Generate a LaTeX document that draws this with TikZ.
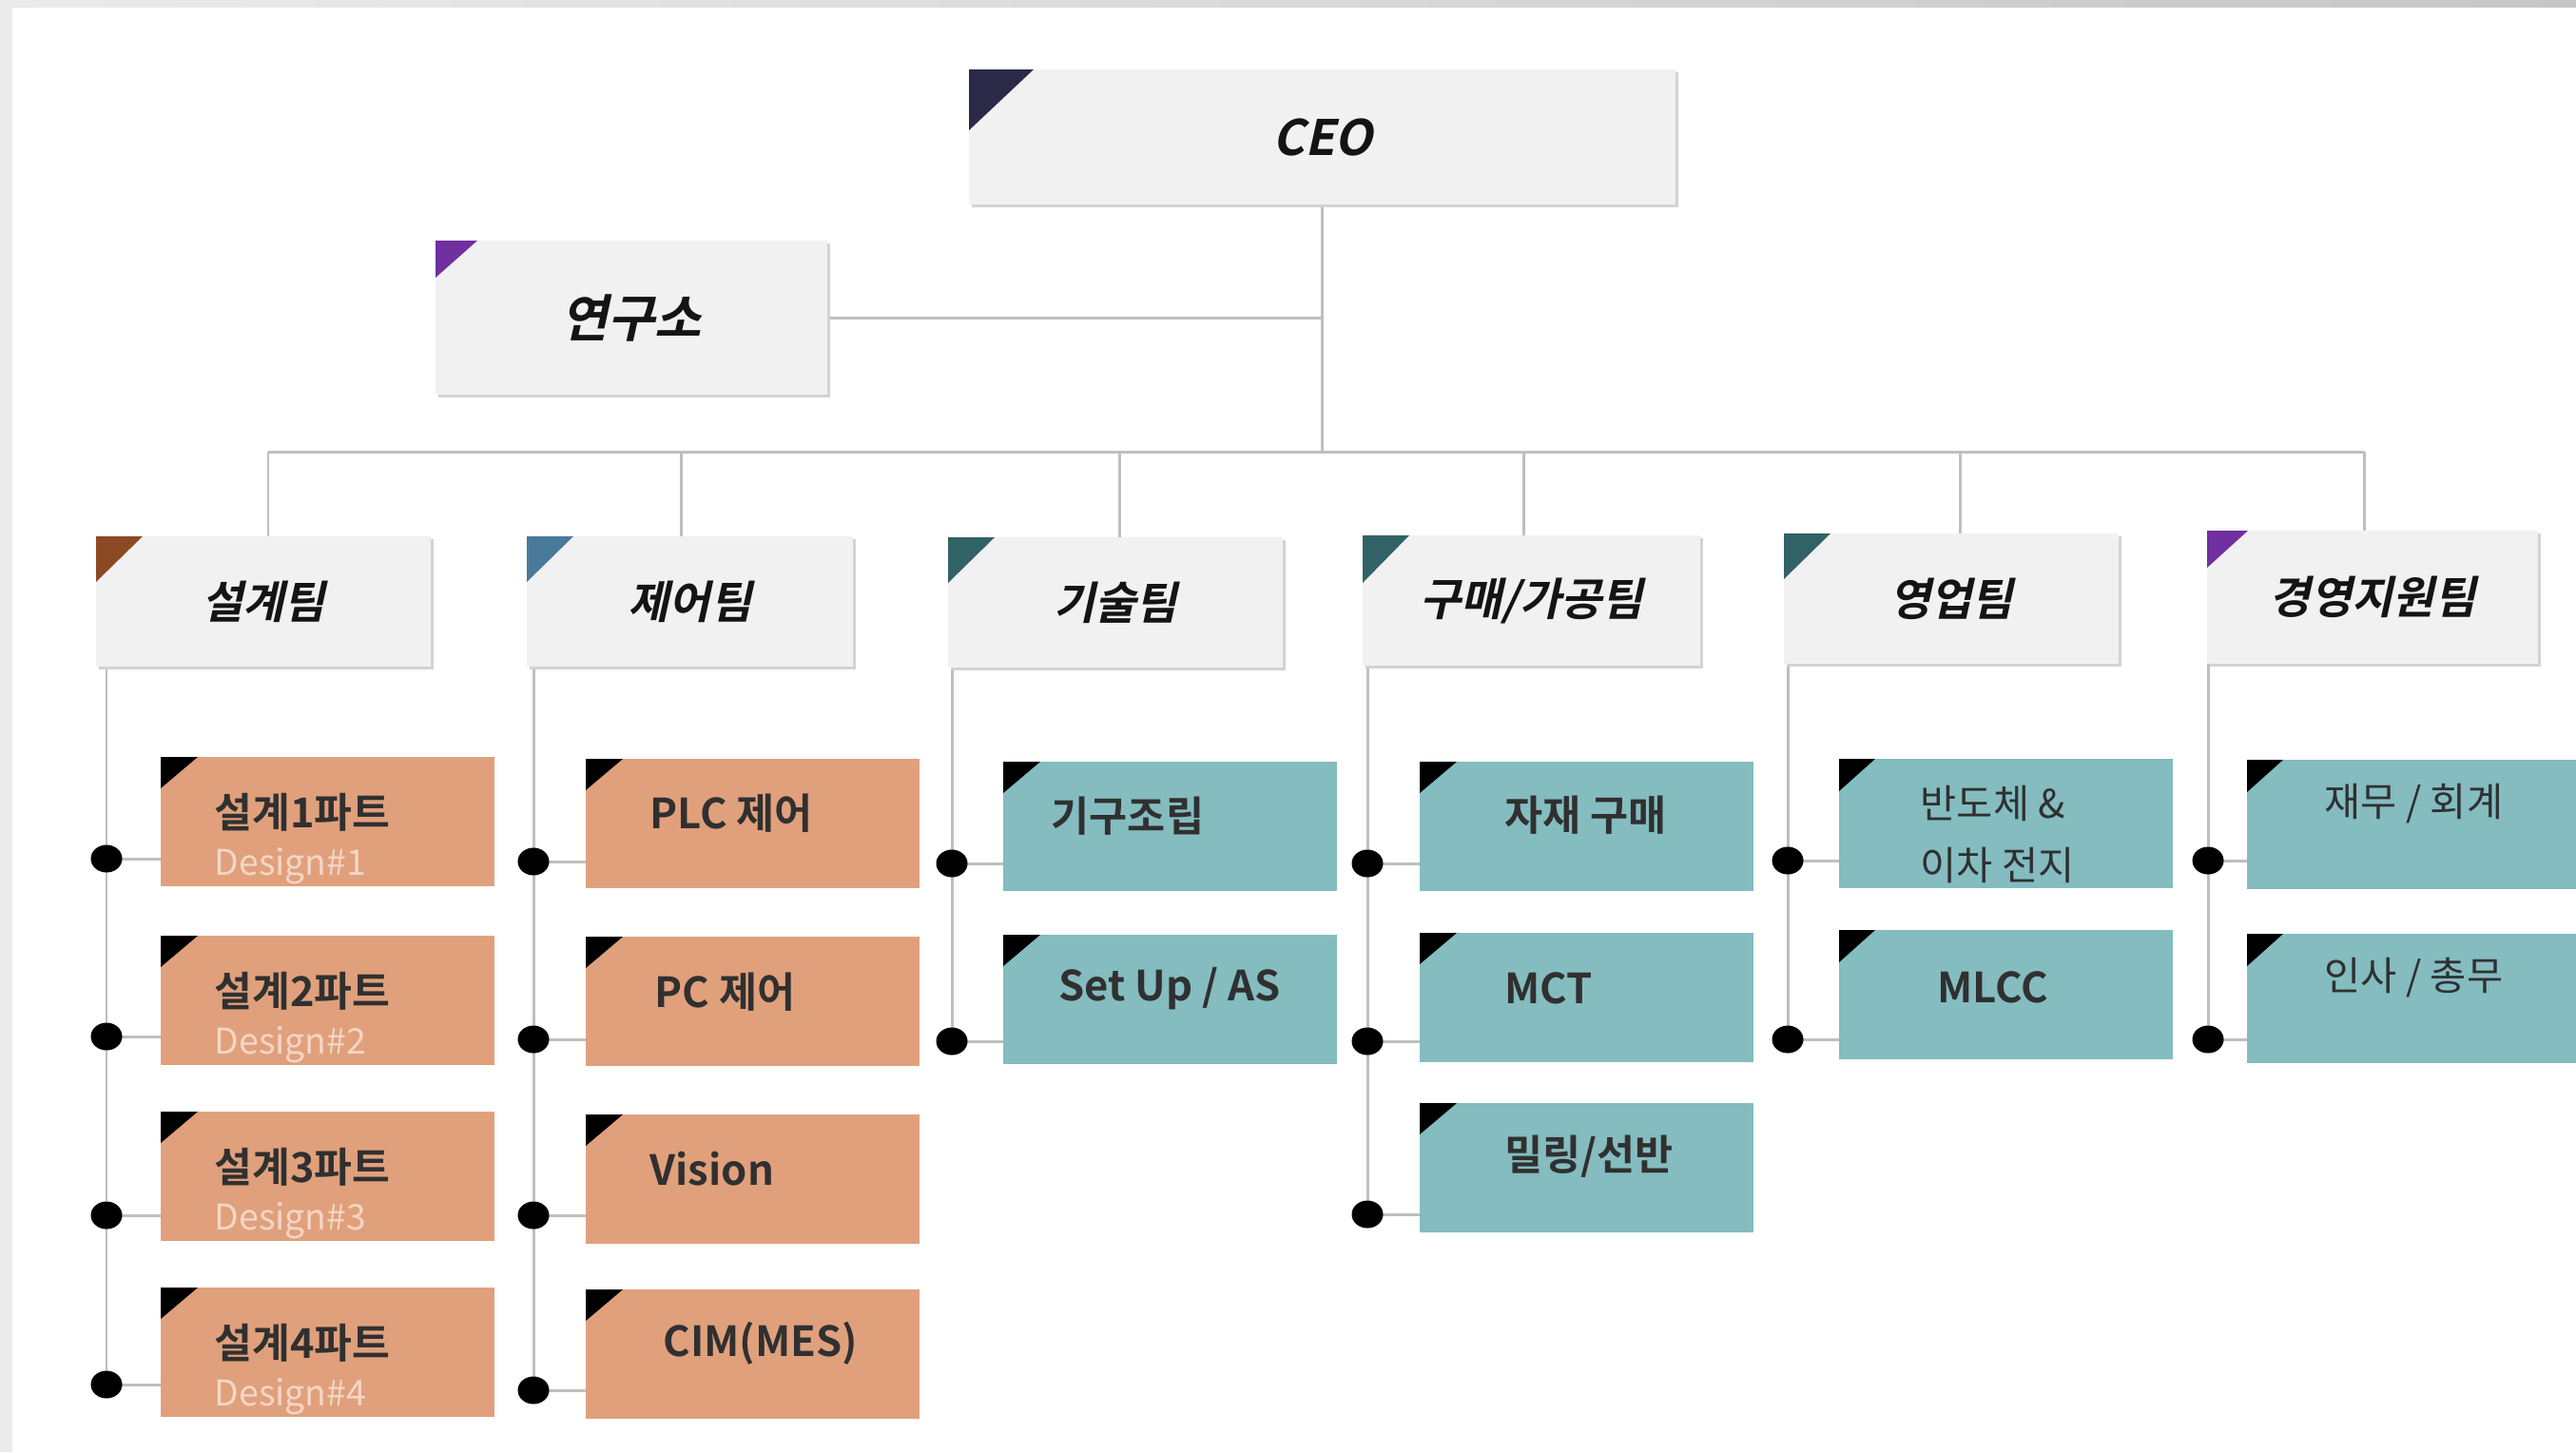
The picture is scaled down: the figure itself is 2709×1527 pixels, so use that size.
\documentclass[tikz,border=0pt]{standalone}
\usepackage{fontspec}
\newfontfamily\krr{Noto Sans CJK KR}
\newfontfamily\krb{Noto Sans CJK KR Bold}
\newfontfamily\krbi{Noto Sans CJK KR Bold}[FakeSlant=0.22]
\usetikzlibrary{shapes.geometric,calc,backgrounds}
\definecolor{teamfill}{HTML}{F1F1F1}
\definecolor{shadowc}{HTML}{D3D3D3}
\definecolor{orangebox}{HTML}{E0A07C}
\definecolor{tealbox}{HTML}{84BCC0}
\definecolor{ceotri}{HTML}{2A2A48}
\definecolor{purpletri}{HTML}{7030A0}
\definecolor{browntri}{HTML}{8B4A24}
\definecolor{bluetri}{HTML}{4A7A9A}
\definecolor{tealtri}{HTML}{316266}
\definecolor{linec}{HTML}{BFBFBF}
\definecolor{designc}{HTML}{F3D6C6}
\definecolor{childtext}{HTML}{303030}
\definecolor{titlec}{HTML}{141414}
\definecolor{bgband}{HTML}{EBEBEB}
\definecolor{bgbandR}{HTML}{C6C6C6}
\begin{document}
\begin{tikzpicture}[x=0.01cm,y=-0.01cm,
  teambox/.style={anchor=north west, fill=teamfill, inner sep=0pt, outer sep=0pt,
     minimum width=3.52cm, minimum height=1.37cm,
     preaction={fill=shadowc, transform canvas={shift={(3,3)}}},
     font=\krbi\fontsize{13.4}{15}\selectfont, text=titlec},
  childbox/.style={anchor=north west, inner sep=0pt, outer sep=0pt,
     minimum width=3.51cm, minimum height=1.36cm},
  orangechild/.style={childbox, fill=orangebox},
  tealchild/.style={childbox, fill=tealbox},
  ctext/.style={anchor=west, inner sep=0pt, text=childtext, font=\krb\fontsize{12.4}{14}\selectfont},
  ctextb/.style={anchor=base west, inner sep=0pt, text=childtext, font=\krb\fontsize{12.3}{14}\selectfont},
  dtext/.style={anchor=base west, inner sep=0pt, text=designc, font=\krr\fontsize{10.6}{12}\selectfont},
  rtext/.style={anchor=west, inner sep=0pt, text=childtext, font=\krr\fontsize{11.8}{13}\selectfont},
  conn/.style={draw=linec, line width=0.85pt},
  dot/.style={ellipse, fill=black, inner sep=0pt, minimum width=0.33cm, minimum height=0.29cm}
]
\useasboundingbox (0,0) rectangle (2709,1527);
\begin{pgfonlayer}{background}
\fill[white] (0,0) rectangle (2709,1527);
\fill[bgband] (0,0) rectangle (13,1527);
\shade[left color=bgband, right color=bgbandR] (0,0) rectangle (2709,7);
\end{pgfonlayer}

% ---------- top level ----------
\node[teambox, minimum width=7.43cm, minimum height=1.42cm, font=\krbi\fontsize{14.6}{16}\selectfont] (ceo) at (1019,73) {\raisebox{-0.06cm}{CEO}};
\fill[ceotri] (ceo.north west) -- ++(68,0) -- ++(-68,64) -- cycle;
\node[teambox, minimum width=4.12cm, minimum height=1.62cm, font=\krbi\fontsize{15.2}{17}\selectfont] (lab) at (458,253) {연구소};
\fill[purpletri] (lab.north west) -- ++(44,0) -- ++(-44,39) -- cycle;

% ---------- teams ----------
\node[teambox] (t1) at (101,564) {설계팀};
\fill[browntri] (t1.north west) -- ++(49,0) -- ++(-49,48) -- cycle;
\node[teambox, minimum width=3.43cm] (t2) at (554,564) {제어팀};
\fill[bluetri] (t2.north west) -- ++(49,0) -- ++(-49,48) -- cycle;
\node[teambox] (t3) at (997,565) {기술팀};
\fill[tealtri] (t3.north west) -- ++(49,0) -- ++(-49,48) -- cycle;
\node[teambox, minimum width=3.55cm] (t4) at (1433,563) {구매/가공팀};
\fill[tealtri] (t4.north west) -- ++(49,0) -- ++(-49,50) -- cycle;
\node[teambox] (t5) at (1876,561) {영업팀};
\fill[tealtri] (t5.north west) -- ++(49,0) -- ++(-49,48) -- cycle;
\node[teambox, minimum width=3.48cm, minimum height=1.40cm] (t6) at (2321,558) {경영지원팀};
\fill[purpletri] (t6.north west) -- ++(43,0) -- ++(-43,39) -- cycle;

% ---------- bus coordinates ----------
\coordinate (j1) at (282,475);
\coordinate (j2) at (716,475);
\coordinate (j3) at (1177,475);
\coordinate (j4) at (1602,475);
\coordinate (j5) at (2061,475);
\coordinate (j6) at (2486,475);

% ---------- 설계팀 children ----------
\node[orangechild] (c11) at (169,796) {};
\node[orangechild] (c12) at (169,984) {};
\node[orangechild] (c13) at (169,1169) {};
\node[orangechild] (c14) at (169,1354) {};
\foreach \c in {c11,c12,c13,c14}{\fill[black] (\c.north west) -- ++(39,0) -- ++(-39,33) -- cycle;}
\node[ctextb] (c11a) at (225,870) {설계1파트};
\node[dtext]  (c11b) at (225,920) {Design\#1};
\node[ctextb] (c12a) at (225,1058) {설계2파트};
\node[dtext]  (c12b) at (225,1108) {Design\#2};
\node[ctextb] (c13a) at (225,1243) {설계3파트};
\node[dtext]  (c13b) at (225,1293) {Design\#3};
\node[ctextb] (c14a) at (225,1428) {설계4파트};
\node[dtext]  (c14b) at (225,1478) {Design\#4};
\coordinate (p11) at (112,903);
\coordinate (p12) at (112,1090);
\coordinate (p13) at (112,1278);
\coordinate (p14) at (112,1456);

% ---------- 제어팀 children ----------
\node[orangechild] (c21) at (616,798) {};
\node[orangechild] (c22) at (616,985) {};
\node[orangechild] (c23) at (616,1172) {};
\node[orangechild] (c24) at (616,1356) {};
\foreach \c in {c21,c22,c23,c24}{\fill[black] (\c.north west) -- ++(39,0) -- ++(-39,33) -- cycle;}
\node[ctext] (c21a) at (683,855) {PLC 제어};
\node[ctext] (c22a) at (688,1043) {PC 제어};
\node[ctext] (c23a) at (683,1229) {Vision};
\node[ctext] (c24a) at (697,1413) {CIM(MES)};
\coordinate (p21) at (561,906);
\coordinate (p22) at (561,1093);
\coordinate (p23) at (561,1278);
\coordinate (p24) at (561,1462);

% ---------- 기술팀 children ----------
\node[tealchild] (c31) at (1055,801) {};
\node[tealchild] (c32) at (1055,983) {};
\foreach \c in {c31,c32}{\fill[black] (\c.north west) -- ++(39,0) -- ++(-39,33) -- cycle;}
\node[ctext] (c31a) at (1105,858) {기구조립};
\node[ctext] (c32a) at (1113,1040) {Set Up / AS};
\coordinate (p31) at (1001,908);
\coordinate (p32) at (1001,1095);

% ---------- 구매/가공팀 children ----------
\node[tealchild] (c41) at (1493,801) {};
\node[tealchild] (c42) at (1493,981) {};
\node[tealchild] (c43) at (1493,1160) {};
\foreach \c in {c41,c42,c43}{\fill[black] (\c.north west) -- ++(39,0) -- ++(-39,33) -- cycle;}
\node[ctext] (c41a) at (1582,857) {자재 구매};
\node[ctext] (c42a) at (1582,1039) {MCT};
\node[ctext] (c43a) at (1582,1216) {밀링/선반};
\coordinate (p41) at (1438,908);
\coordinate (p42) at (1438,1095);
\coordinate (p43) at (1438,1277);

% ---------- 영업팀 children ----------
\node[tealchild] (c51) at (1934,798) {};
\node[tealchild] (c52) at (1934,978) {};
\foreach \c in {c51,c52}{\fill[black] (\c.north west) -- ++(38,0) -- ++(-38,34) -- cycle;}
\node[rtext] (c51a) at (2019,845) {반도체 \&};
\node[rtext] (c51b) at (2019,910) {이차 전지};
\node[ctext] (c52a) at (2037,1038) {MLCC};
\coordinate (p51) at (1880,905);
\coordinate (p52) at (1880,1093);

% ---------- 경영지원팀 children ----------
\node[tealchild, minimum width=3.46cm] (c61) at (2363,799) {};
\node[tealchild, minimum width=3.46cm] (c62) at (2363,982) {};
\foreach \c in {c61,c62}{\fill[black] (\c.north west) -- ++(38,0) -- ++(-38,34) -- cycle;}
\node[rtext] (c61a) at (2444,845) {재무 / 회계};
\node[rtext] (c62a) at (2444,1028) {인사 / 총무};
\coordinate (p61) at (2322,905);
\coordinate (p62) at (2322,1093);

% ---------- connectors ----------
\begin{pgfonlayer}{background}
\draw[conn] (ceo.south) -- (ceo.south |- j1);
\draw[conn] (lab.east) -- (lab.east -| ceo.south);
\draw[conn] (j1) -- (j6);
\foreach \j/\t in {j1/t1,j2/t2,j3/t3,j4/t4,j5/t5,j6/t6}{\draw[conn] (\j) -- (\j |- \t.north);}
\draw[conn] (t1.south -| p11) -- (p14);
\draw[conn] (t2.south -| p21) -- (p24);
\draw[conn] (t3.south -| p31) -- (p32);
\draw[conn] (t4.south -| p41) -- (p43);
\draw[conn] (t5.south -| p51) -- (p52);
\draw[conn] (t6.south -| p61) -- (p62);
\foreach \p/\c in {p11/c11,p12/c12,p13/c13,p14/c14,p21/c21,p22/c22,p23/c23,p24/c24,p31/c31,p32/c32,p41/c41,p42/c42,p43/c43,p51/c51,p52/c52,p61/c61,p62/c62}{\draw[conn] (\p) -- (\p -| \c.west);}
\end{pgfonlayer}
\foreach \p in {p11,p12,p13,p14,p21,p22,p23,p24,p31,p32,p41,p42,p43,p51,p52,p61,p62}{\node[dot] at (\p) {};}
\end{tikzpicture}
\end{document}
